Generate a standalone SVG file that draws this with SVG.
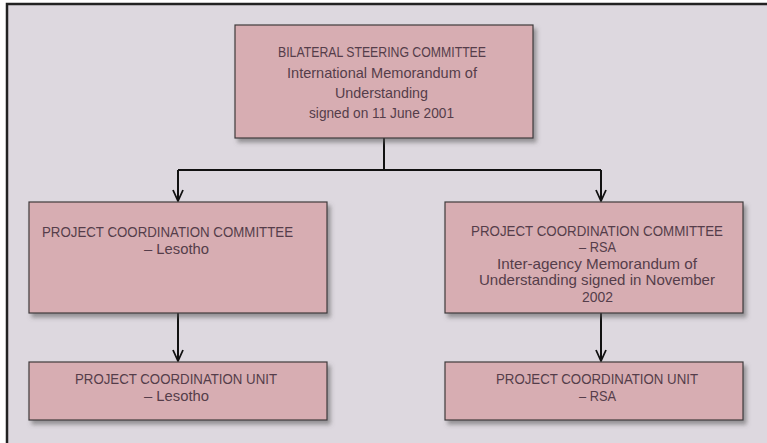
<svg xmlns="http://www.w3.org/2000/svg" width="767" height="443" viewBox="0 0 767 443">
<defs>
<style>
.box{fill:#d7adb2;stroke:#3f3a3d;stroke-width:1.2;filter:url(#sh)}
.t{font-family:"Liberation Sans",Arial,sans-serif;font-size:14.5px;fill:#553d4a;text-anchor:middle}
.c{fill:none;stroke:#111;stroke-width:2}
</style>
<filter id="sh" x="-10%" y="-10%" width="125%" height="140%">
<feDropShadow dx="3" dy="4" stdDeviation="2.2" flood-color="#555" flood-opacity="0.55"/>
</filter>
<marker id="ah" markerWidth="14" markerHeight="12" viewBox="0 0 14 12" refX="13" refY="6" orient="auto" markerUnits="userSpaceOnUse">
<path d="M2,1 L13,6 L2,11" fill="none" stroke="#111" stroke-width="1.8"/>
</marker>
</defs>
<rect x="0" y="0" width="767" height="443" fill="#ffffff"/>
<rect x="7" y="4" width="760" height="439" fill="#ddd8df"/>
<path d="M7,443 V4 H767" fill="none" stroke="#222" stroke-width="2.5"/>
<g id="connectors">
<path class="c" d="M384,138 V170"/>
<path class="c" d="M178,170 H601"/>
<path class="c" d="M178,170 V201" marker-end="url(#ah)"/>
<path class="c" d="M601,170 V201" marker-end="url(#ah)"/>
<path class="c" d="M178,313 V361" marker-end="url(#ah)"/>
<path class="c" d="M601,313 V361" marker-end="url(#ah)"/>
</g>
<g id="bilateral">
<rect class="box" x="235" y="25" width="298" height="113"/>
<text class="t" x="382" y="57" textLength="208" lengthAdjust="spacingAndGlyphs">BILATERAL STEERING COMMITTEE</text>
<text class="t" x="382" y="77.5" textLength="190" lengthAdjust="spacingAndGlyphs">International Memorandum of</text>
<text class="t" x="381.5" y="97.5" textLength="93" lengthAdjust="spacingAndGlyphs">Understanding</text>
<text class="t" x="381.5" y="117.5" textLength="145" lengthAdjust="spacingAndGlyphs">signed on 11 June 2001</text>
</g>
<g id="pcc-lesotho">
<rect class="box" x="29" y="202" width="298" height="111"/>
<text class="t" x="167.5" y="236.5" textLength="251" lengthAdjust="spacingAndGlyphs">PROJECT COORDINATION COMMITTEE</text>
<text class="t" x="176.5" y="254" textLength="65" lengthAdjust="spacingAndGlyphs">– Lesotho</text>
</g>
<g id="pcc-rsa">
<rect class="box" x="445" y="202" width="298" height="111"/>
<text class="t" x="597" y="235.5" textLength="252" lengthAdjust="spacingAndGlyphs">PROJECT COORDINATION COMMITTEE</text>
<text class="t" x="597.5" y="252" textLength="37" lengthAdjust="spacingAndGlyphs">– RSA</text>
<text class="t" x="597" y="268.5" textLength="200" lengthAdjust="spacingAndGlyphs">Inter-agency Memorandum of</text>
<text class="t" x="597" y="285" textLength="236" lengthAdjust="spacingAndGlyphs">Understanding signed in November</text>
<text class="t" x="597.5" y="301.5" textLength="31" lengthAdjust="spacingAndGlyphs">2002</text>
</g>
<g id="pcu-lesotho">
<rect class="box" x="29" y="362" width="298" height="58"/>
<text class="t" x="176" y="384" textLength="202" lengthAdjust="spacingAndGlyphs">PROJECT COORDINATION UNIT</text>
<text class="t" x="176.5" y="401" textLength="65" lengthAdjust="spacingAndGlyphs">– Lesotho</text>
</g>
<g id="pcu-rsa">
<rect class="box" x="445" y="362" width="298" height="58"/>
<text class="t" x="597" y="384" textLength="202" lengthAdjust="spacingAndGlyphs">PROJECT COORDINATION UNIT</text>
<text class="t" x="597.5" y="401" textLength="37" lengthAdjust="spacingAndGlyphs">– RSA</text>
</g>
</svg>
